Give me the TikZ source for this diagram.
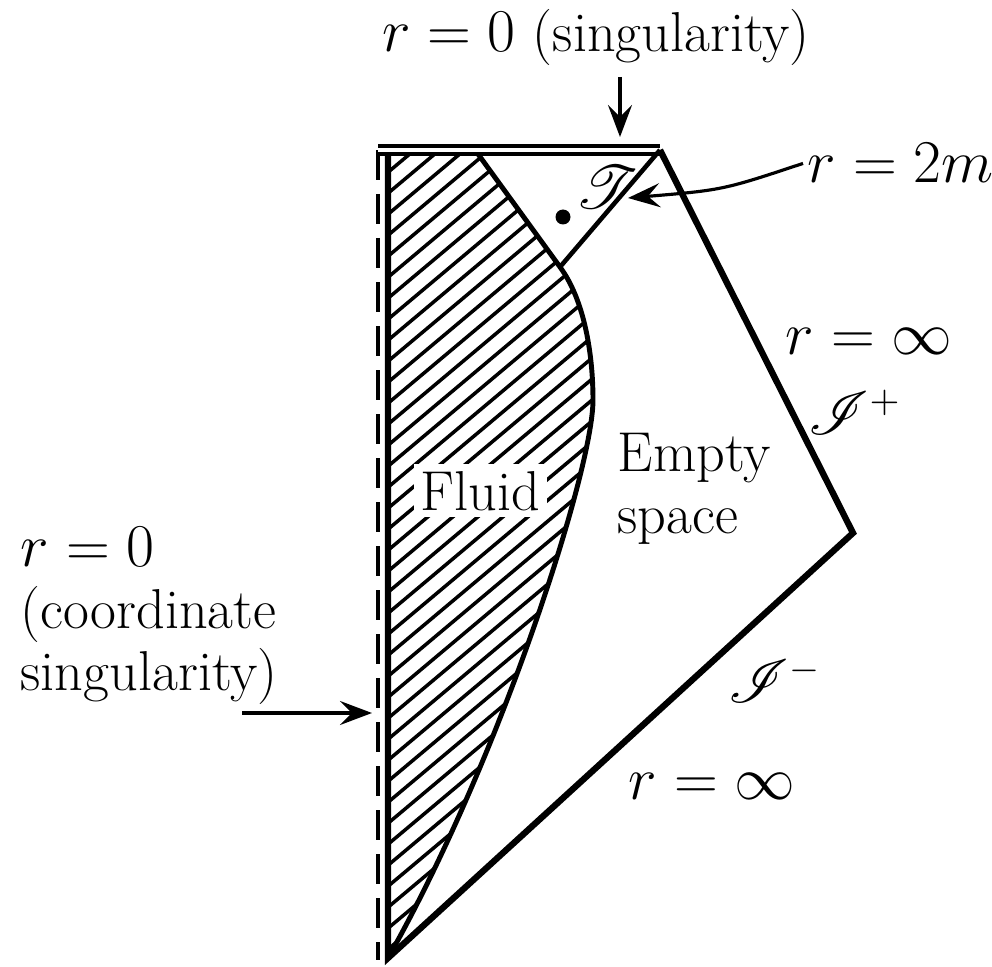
\documentclass[tikz,border=0pt]{standalone}
\usepackage{amsmath,amssymb}
\usepackage{mathrsfs}
\usetikzlibrary{calc, arrows.meta, positioning}

\begin{document}
\begin{tikzpicture}[>={Stealth[length=3.2mm,width=2.4mm,inset=1.2mm]},
  lbl/.style={font=\fontsize{16}{17.6}\selectfont, inner sep=0pt},
  edge/.style={line width=1.8pt, line join=miter},
  pointer/.style={->, line width=0.9pt}]
  \useasboundingbox (0,0) rectangle (9.92,9.66);

  % Corners of the diagram
  \coordinate (topL) at (3.78,8.16);
  \coordinate (topR) at (6.60,8.16);
  \coordinate (infR) at (8.53,4.33);
  \coordinate (bot) at (3.88,0.08);
  \coordinate (hor) at (5.60,6.99);
  \coordinate (surfTop) at (4.78,8.12);
  \coordinate (surfMax) at (5.93,5.66);

  % Hatched fluid
  \begin{scope}
    \clip (3.88,8.12) -- (surfTop) -- (hor)
      .. controls (5.85,6.65) and (5.93,6.10) .. (surfMax)
      .. controls (5.93,4.96) and (5.00,2.06) .. (bot) -- cycle;
    \foreach \i in {0,...,50}
      \draw[line width=1pt] (3.8,{-2.0+0.21*\i}) -- ++(2.3,1.93);
  \end{scope}
  \node[lbl, anchor=base west, fill=white, inner sep=2pt] (fluid) at (4.13,4.56) {Fluid};

  % Surface of the star
  \draw[line width=1.4pt] (surfTop) -- (hor)
    .. controls (5.85,6.65) and (5.93,6.10) .. (surfMax)
    .. controls (5.93,4.96) and (5.00,2.06) .. (bot);

  % Outer boundary and centre
  \draw[edge] (3.88,8.14) -- (bot) -- (infR) -- (topR);
  \draw[line width=1.2pt, dash pattern=on 0.3cm off 0.14cm] (topL) -- (3.78,0.06);
  \draw[double, double distance=0.9pt, line width=1.2pt] (topL) -- (topR);

  % Horizon and trapped surface
  \draw[line width=1.3pt] (topR) -- (hor);
  \node[circle, fill, inner sep=0pt, minimum size=1.5mm] (event) at (5.63,7.49) {};
  \node[lbl] (trap) at (6.07,7.79) {$\mathscr{T}$};

  % Labels
  \node[lbl, anchor=base] (sing) at (5.96,9.14) {$r=0$ (singularity)};
  \coordinate (singTip) at (6.20,8.29);
  \draw[pointer] ([yshift=-1mm]sing.south -| singTip) -- (singTip);

  \node[lbl, anchor=base west] (hz) at (8.07,7.83) {$r=2m$};
  \coordinate (hzTip) at (6.28,7.68);
  \draw[pointer] ([xshift=-0.4mm]hz.west) .. controls (7.23,7.76) .. (hzTip);

  \node[lbl, anchor=base west] (infU) at (7.85,6.11) {$r=\infty$};
  \node[lbl] (scriP) at (8.55,5.54) {$\mathscr{I}^+$};
  \node[lbl, anchor=north west, align=left] (vac) at (6.17,5.33) {Empty\\space};
  \node[lbl] (scriM) at (7.75,2.86) {$\mathscr{I}^-$};
  \node[lbl, anchor=base west] (infL) at (6.28,1.66) {$r=\infty$};

  \node[lbl, anchor=north west, align=left] (coord) at (0.20,4.39)
    {$r=0$\\(coordinate\\singularity)};
  \coordinate (coordTail) at (2.42,2.53);
  \coordinate (coordTip) at (3.72,2.53);
  \draw[pointer] (coordTail) -- (coordTip);
\end{tikzpicture}
\end{document}
